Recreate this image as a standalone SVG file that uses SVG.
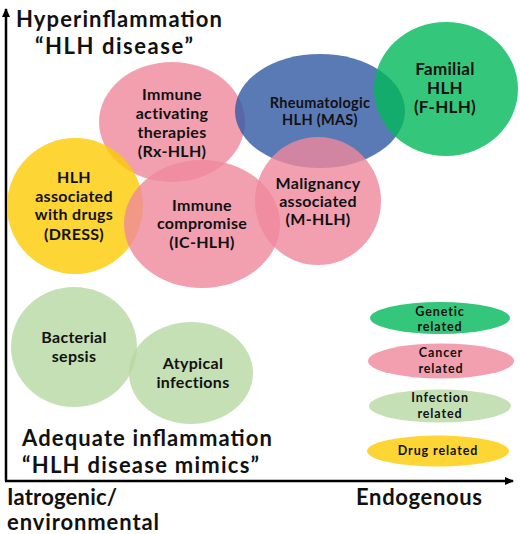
<svg xmlns="http://www.w3.org/2000/svg" width="520" height="534" viewBox="0 0 520 534">
<defs>
<style>
.t{font-family:Lato,"Open Sans","Liberation Sans",sans-serif;font-weight:bold;fill:#111;}
.big{font-size:22px;}
.n{font-size:16px;letter-spacing:0.3px;text-anchor:middle;}
.f{font-size:17px;letter-spacing:0.3px;text-anchor:middle;}
.s{font-size:14.5px;letter-spacing:0.3px;text-anchor:middle;}
.l{font-size:12.5px;letter-spacing:0.9px;text-anchor:middle;}
.pink{fill:#ef889c;fill-opacity:0.8;}
.blue{fill:#3159a4;fill-opacity:0.8;}
.green{fill:#01b95a;fill-opacity:0.8;}
.yellow{fill:#fdcb01;fill-opacity:0.8;}
.lgreen{fill:#b6d8a1;fill-opacity:0.8;}
.axis{stroke:#000;stroke-width:2.5;fill:none;}
</style>
<marker id="ah" markerWidth="10" markerHeight="10" refX="8" refY="5" orient="auto" markerUnits="userSpaceOnUse">
<path d="M0,1 L9,5 L0,9 Z" fill="#000"/>
</marker>
</defs>
<rect width="520" height="534" fill="#fff"/>
<g id="axes">
<line class="axis" x1="6" y1="481" x2="6" y2="9" marker-end="url(#ah)"/>
<line class="axis" x1="5" y1="481" x2="513" y2="481" marker-end="url(#ah)"/>
</g>
<g id="titles">
<text class="t big" x="16" y="27" textLength="206">Hyperinflammation</text>
<text class="t big" x="35" y="54" textLength="158">“HLH disease”</text>
<text class="t big" x="22" y="446" textLength="250">Adequate inflammation</text>
<text class="t big" x="22" y="473" textLength="237">“HLH disease mimics”</text>
<text class="t big" x="7" y="505" textLength="110">Iatrogenic/</text>
<text class="t big" x="7" y="530" textLength="152">environmental</text>
<text class="t big" x="356" y="505" textLength="126">Endogenous</text>
</g>
<g id="rx-hlh">
<ellipse class="pink" cx="172" cy="122" rx="73" ry="60"/>
<text class="t n" x="172" y="100">Immune</text>
<text class="t n" x="172" y="119">activating</text>
<text class="t n" x="172" y="138">therapies</text>
<text class="t n" x="172" y="157">(Rx-HLH)</text>
</g>
<g id="mas">
<ellipse class="blue" cx="320" cy="111" rx="85" ry="57"/>
<text class="t s" x="320" y="108">Rheumatologic</text>
<text class="t s" x="320" y="125">HLH (MAS)</text>
</g>
<g id="f-hlh">
<ellipse class="green" cx="446" cy="89" rx="72" ry="67"/>
<text class="t f" x="445" y="75">Familial</text>
<text class="t f" x="445" y="94">HLH</text>
<text class="t f" x="445" y="113">(F-HLH)</text>
</g>
<g id="dress">
<ellipse class="yellow" cx="75" cy="206" rx="68" ry="68"/>
<text class="t n" x="74" y="183">HLH</text>
<text class="t n" x="74" y="202">associated</text>
<text class="t n" x="74" y="220">with drugs</text>
<text class="t n" x="74" y="240">(DRESS)</text>
</g>
<g id="ic-hlh">
<ellipse class="pink" cx="202" cy="224" rx="78" ry="64"/>
<text class="t n" x="202" y="211">Immune</text>
<text class="t n" x="202" y="229">compromise</text>
<text class="t n" x="202" y="248">(IC-HLH)</text>
</g>
<g id="m-hlh">
<ellipse class="pink" cx="318" cy="201" rx="63" ry="64"/>
<text class="t n" x="318" y="189">Malignancy</text>
<text class="t n" x="318" y="207">associated</text>
<text class="t n" x="318" y="225">(M-HLH)</text>
</g>
<g id="sepsis">
<ellipse class="lgreen" cx="74" cy="347" rx="63" ry="60"/>
<text class="t n" x="74" y="343">Bacterial</text>
<text class="t n" x="74" y="362">sepsis</text>
</g>
<g id="atypical">
<ellipse class="lgreen" cx="191" cy="373" rx="62" ry="51"/>
<text class="t n" x="193" y="369">Atypical</text>
<text class="t n" x="193" y="388">infections</text>
</g>
<g id="legend-genetic">
<ellipse cx="440" cy="318" rx="70" ry="16" fill="#34c77b"/>
<text class="t l" x="440" y="316">Genetic</text>
<text class="t l" x="440" y="331">related</text>
</g>
<g id="legend-cancer">
<ellipse cx="441" cy="361" rx="73" ry="17.5" fill="#f2a0b0"/>
<text class="t l" x="441" y="357">Cancer</text>
<text class="t l" x="441" y="373">related</text>
</g>
<g id="legend-infection">
<ellipse cx="440" cy="406" rx="71" ry="16.5" fill="#c5e0b4"/>
<text class="t l" x="440" y="402">Infection</text>
<text class="t l" x="440" y="418">related</text>
</g>
<g id="legend-drug">
<ellipse cx="438" cy="451" rx="71" ry="15.5" fill="#fdd535"/>
<text class="t l" x="438" y="455">Drug related</text>
</g>
</svg>
